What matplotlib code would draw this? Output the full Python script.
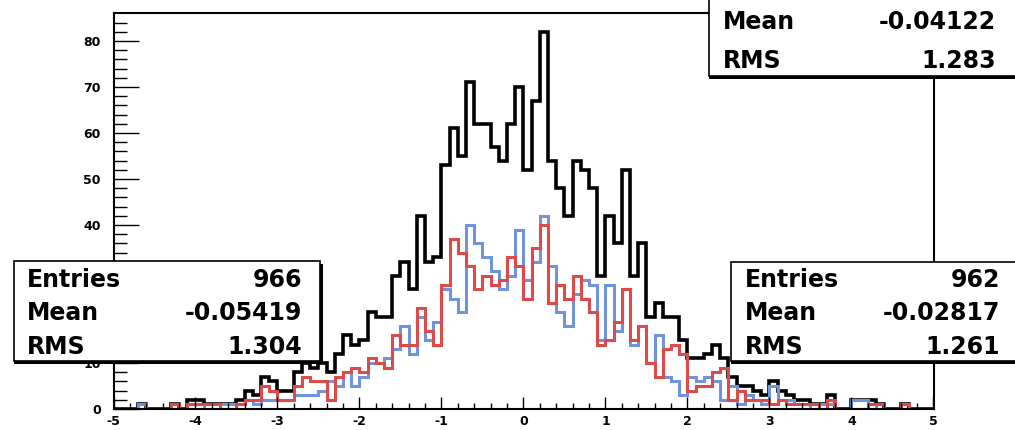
import numpy as np
import matplotlib
matplotlib.use("Agg")
import matplotlib.pyplot as plt
from matplotlib.patches import Rectangle

# 100 bins of width 0.1 between -5 and 5
x_lo, x_hi, n_bins = -5, 5, 100

blue = [0, 0, 0, 1, 0, 0, 0, 0, 0, 1,
        1, 0, 0, 1, 1, 1, 2, 1, 2, 2,
        2, 2, 3, 3, 3, 4, 6, 5, 8, 5,
        7, 10, 10, 11, 13, 18, 12, 20, 15, 19,
        26, 24, 21, 40, 36, 33, 30, 26, 29, 39,
        28, 32, 42, 31, 21, 18, 25, 28, 27, 15,
        27, 17, 26, 14, 18, 10, 16, 7, 6, 3,
        7, 6, 7, 6, 2, 5, 1, 3, 2, 1,
        5, 2, 2, 1, 1, 0, 1, 1, 0, 0,
        2, 2, 1, 0, 0, 0, 0, 0, 0, 0]

red = [0, 0, 0, 0, 0, 0, 0, 1, 0, 1,
       1, 1, 1, 0, 0, 1, 2, 2, 5, 4,
       2, 2, 5, 7, 6, 6, 2, 7, 8, 9,
       8, 11, 10, 9, 16, 14, 14, 22, 17, 14,
       27, 37, 34, 31, 26, 29, 27, 28, 33, 31,
       24, 35, 40, 23, 27, 24, 29, 24, 21, 14,
       15, 19, 26, 15, 18, 10, 7, 13, 14, 12,
       4, 5, 5, 8, 9, 2, 4, 2, 2, 2,
       1, 2, 1, 1, 1, 1, 0, 2, 0, 0,
       0, 0, 1, 1, 0, 0, 1, 0, 0, 0]

total = [0, 0, 0, 1, 0, 0, 0, 1, 0, 2,
         2, 1, 1, 1, 1, 2, 4, 3, 7, 6,
         4, 4, 8, 10, 9, 10, 8, 12, 16, 14,
         15, 21, 20, 20, 29, 32, 26, 42, 32, 33,
         53, 61, 55, 71, 62, 62, 57, 54, 62, 70,
         52, 67, 82, 54, 48, 42, 54, 52, 48, 29,
         42, 36, 52, 29, 36, 20, 23, 20, 20, 15,
         11, 11, 12, 14, 11, 7, 5, 5, 4, 3,
         6, 4, 3, 2, 2, 1, 1, 3, 0, 0,
         2, 2, 2, 1, 0, 0, 1, 0, 0, 0]

xticks = [-5, -4, -3, -2, -1, 0, 1, 2, 3, 4, 5]
xlabels = ["-5", "-4", "-3", "-2", "-1", "0", "1", "2", "3", "4", "5"]
yticks = [0, 10, 20, 30, 40, 50, 60, 70, 80]
# the labels 20 and 30 sit under the left stats box in the original
ylabels = ["0", "10", "", "", "40", "50", "60", "70", "80"]

stats_left = [("Entries", "966"), ("Mean", "-0.05419"), ("RMS", "1.304")]
stats_right = [("Entries", "962"), ("Mean", "-0.02817"), ("RMS", "1.261")]
stats_top = [("Mean", "-0.04122"), ("RMS", "1.283")]

W, H = 1015, 430
fig = plt.figure(figsize=(W / 100, H / 100), dpi=100)
fig.patch.set_facecolor("white")

ax = fig.add_axes([113.5 / W, 21 / H, 820 / W, 396 / H])
edges = np.linspace(x_lo, x_hi, n_bins + 1)
ax.stairs(total, edges, color="black", lw=2.6)
ax.stairs(blue, edges, color="#6f94dc", lw=2.2)
ax.stairs(red, edges, color="#dc4a4a", lw=2.2)

ax.set_xlim(x_lo, x_hi)
ax.set_ylim(0, 86.1)
for s in ax.spines.values():
    s.set_linewidth(1.5)

ax.set_xticks(xticks)
ax.set_xticklabels(xlabels)
ax.set_xticks(np.arange(-5, 5.01, 0.2), minor=True)
ax.set_yticks(yticks)
ax.set_yticklabels(ylabels)
ax.set_yticks(np.arange(0, 86, 2), minor=True)
ax.tick_params(axis="x", which="major", direction="in", length=9, width=1, pad=4)
ax.tick_params(axis="x", which="minor", direction="in", length=4.5, width=1)
ax.tick_params(axis="y", which="major", direction="in", length=18, width=1, pad=9)
ax.tick_params(axis="y", which="minor", direction="in", length=9, width=1)
for lab in ax.get_xticklabels() + ax.get_yticklabels():
    lab.set_fontfamily("DejaVu Sans")
    lab.set_fontweight("bold")
    lab.set_fontsize(9)


def stats_box(left, top, right, bottom, rows, lab_x, val_x, row_y):
    # pixel coordinates measured from the top left corner of the image
    sh = Rectangle((left / W, 1 - (bottom + 2.5) / H), (right - left + 2.5) / W,
                   (bottom - top) / H, transform=fig.transFigure,
                   facecolor="black", edgecolor="none", zorder=5)
    box = Rectangle((left / W, 1 - bottom / H), (right - left) / W, (bottom - top) / H,
                    transform=fig.transFigure, facecolor="white",
                    edgecolor="black", lw=1.2, zorder=6)
    fig.add_artist(sh)
    fig.add_artist(box)
    for (name, val), y in zip(rows, row_y):
        fig.text(lab_x / W, 1 - y / H, name, ha="left", va="center", fontsize=17,
                 fontweight="bold", family="DejaVu Sans", zorder=7)
        fig.text(val_x / W, 1 - y / H, val, ha="right", va="center", fontsize=17,
                 fontweight="bold", family="DejaVu Sans", zorder=7)


stats_box(14, 261, 320, 361, stats_left, 27, 302, [280, 313, 347])
stats_box(731, 262, 1030, 361, stats_right, 745, 1000, [280, 313, 347])
stats_box(709, -45, 1030, 76, stats_top, 723, 996, [22, 61])

fig.savefig("out.png", dpi=100)
